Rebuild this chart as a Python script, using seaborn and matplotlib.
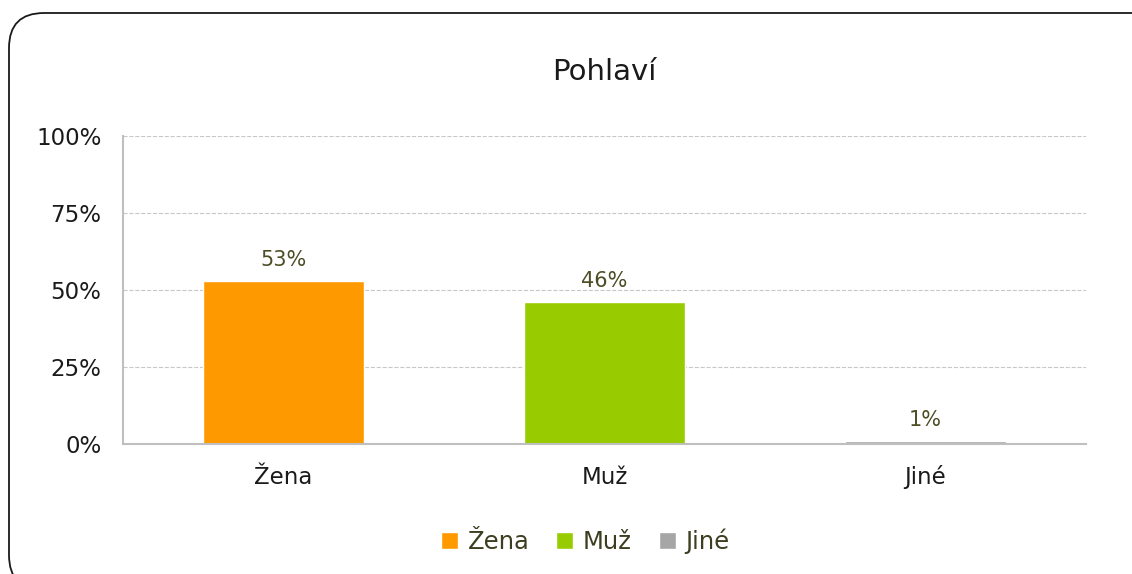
"""Bar chart of respondent gender (Pohlaví)"""

import matplotlib.pyplot as plt
import pandas as pd
import seaborn as sns
from matplotlib.patches import FancyBboxPatch, Patch
from matplotlib.ticker import FixedLocator
from matplotlib.transforms import IdentityTransform

categories = ['Žena', 'Muž', 'Jiné']
shares = [53, 46, 1]
colors = ['#FF9900', '#99CC00', '#A6A6A6']
y_ticks = [0, 25, 50, 75, 100]

df = pd.DataFrame({'pohlavi': categories, 'podil': shares})

sns.set_style('white')
plt.rcParams['font.family'] = ['DejaVu Sans']

fig = plt.figure(figsize=(11.32, 5.74), dpi=100)
ax = fig.add_axes([0.1087, 0.2265, 0.8507, 0.5366])

# rounded frame around the chart (pixel coords, partly off canvas)
frame = FancyBboxPatch((9, -16), 1158, 577,
                       boxstyle='round,pad=0,rounding_size=35',
                       transform=IdentityTransform(), fill=False,
                       edgecolor='#1a1a1a', linewidth=1.3, zorder=-1)
fig.patches.append(frame)

sns.barplot(data=df, x='pohlavi', y='podil', hue='pohlavi', palette=colors,
            width=0.5, legend=False, ax=ax, saturation=1)

for cont in ax.containers:
    ax.bar_label(cont, fmt='%d%%', padding=8, color='#4D4D26', fontsize=15)

ax.set_xlim(-0.5, 2.5)
ax.set_ylim(0, 100)
ax.set_yticks(y_ticks)
ax.set_yticklabels([f'{v}%' for v in y_ticks], fontsize=16.5, color='#1a1a1a')
ax.tick_params(axis='x', which='major', length=0, labelsize=16.5,
               labelcolor='#1a1a1a', pad=29)
for lbl in ax.get_xticklabels():
    lbl.set_verticalalignment('baseline')
ax.xaxis.set_minor_locator(FixedLocator([-0.5, 0.5, 1.5, 2.5]))
ax.tick_params(axis='x', which='minor', length=5.5, color='#BFBFBF', width=1.5)
ax.tick_params(axis='y', length=5.5, color='#BFBFBF', width=1.5, pad=10)
ax.set_xlabel('')
ax.set_ylabel('')

ax.grid(axis='y', linestyle='--', color='#C8C8C8', linewidth=0.8)
ax.set_axisbelow(True)
for side in ['top', 'right']:
    ax.spines[side].set_visible(False)
for side in ['left', 'bottom']:
    ax.spines[side].set_color('#BFBFBF')
    ax.spines[side].set_linewidth(1.5)

ax.set_title('Pohlaví', fontsize=21, pad=40, color='#1a1a1a')

handles = [Patch(facecolor=c, label=l) for c, l in zip(colors, categories)]
leg = fig.legend(handles=handles, loc='center', bbox_to_anchor=(0.517, 0.057),
                 ncol=3, frameon=False, fontsize=17.5, handlelength=0.7,
                 handleheight=0.7, handletextpad=0.4, columnspacing=1.1)
for t in leg.get_texts():
    t.set_color('#3D3D1F')

fig.savefig('out.png', dpi=100)
